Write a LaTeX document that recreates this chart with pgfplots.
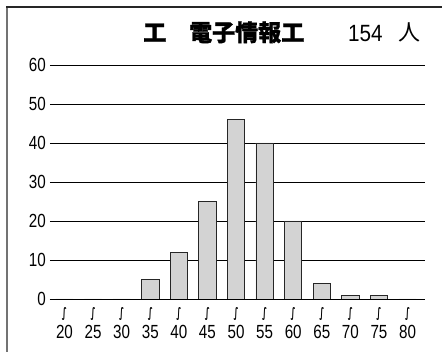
\documentclass[border=0pt]{standalone}
\usepackage{fontspec}
\setmainfont{Liberation Sans}
\newfontfamily\cjk[BoldFeatures={FakeBold=1.2}]{Noto Sans CJK JP}
\newfontfamily\sym{DejaVu Sans}
\usepackage{pgfplots}
\pgfplotsset{compat=1.18}
\definecolor{barfill}{HTML}{D3D3D3}
% vertical squiggle under each tick
\newcommand{\sq}{\resizebox*{5pt}{13pt}{\sym\bfseries ∫}}
\newcommand{\nx}[1]{\scalebox{0.8}[1]{#1}}
\newcommand{\xl}[1]{\sq\\\nx{#1}}

\begin{document}
\begin{tikzpicture}[x=1pt,y=1pt]
\useasboundingbox (0,0) rectangle (442,352);
% frame: left and top only
\draw[line width=2pt, black!55] (7,0) -- (7,345);
\draw[line width=1.5pt, black!85] (6,345) -- (442,345);
% title
\node[anchor=base west, inner sep=0, font=\cjk\bfseries\fontsize{23}{23}\selectfont] at (143,311) {工　電子情報工};
\node[anchor=base west, inner sep=0, font=\fontsize{23.5}{23.5}\selectfont] at (348,310) {\scalebox{0.88}[1]{154}};
\node[anchor=base west, inner sep=0, font=\cjk\fontsize{22}{22}\selectfont] at (398,311) {人};
\begin{axis}[
    at={(50pt,53pt)}, anchor=south west,
    scale only axis,
    width=375pt, height=234pt,
    xmin=-0.507, xmax=12.61,
    ymin=0, ymax=60,
    ybar, bar width=17.3pt,
    xtick={0,...,12},
    xticklabels={{\xl{20}},{\xl{25}},{\xl{30}},{\xl{35}},{\xl{40}},{\xl{45}},{\xl{50}},{\xl{55}},{\xl{60}},{\xl{65}},{\xl{70}},{\xl{75}},{\xl{80}}},
    ytick={0,10,...,60},
    yticklabel={\nx{\pgfmathprintnumber{\tick}}},
    ymajorgrids,
    grid style={black, line width=0.6pt},
    major tick length=0pt,
    axis x line*=bottom, axis y line*=left,
    y axis line style={draw=none},
    x axis line style={-, black, line width=0.8pt},
    /pgf/number format/assume math mode=true,
    xticklabel style={font=\fontsize{19}{21}\selectfont, align=center, inner sep=0pt, anchor=north, yshift=-8.7pt},
    yticklabel style={font=\fontsize{19}{21}\selectfont, inner sep=0pt, anchor=east, xshift=-4pt},
]
\addplot[fill=barfill, draw=black!85, line width=0.8pt] coordinates {
    (0,0) (1,0) (2,0) (3,5) (4,12) (5,25) (6,46)
    (7,40) (8,20) (9,4) (10,1) (11,1) (12,0)
};
\end{axis}
\end{tikzpicture}
\end{document}
